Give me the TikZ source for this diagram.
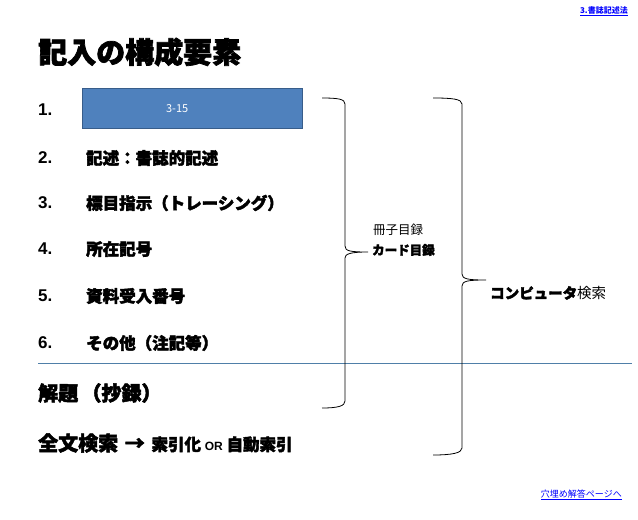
\documentclass[tikz,border=0pt]{standalone}
\usepackage{fontspec}
\setmainfont{Noto Sans CJK JP}
\newfontfamily\jpb{Noto Sans CJK JP}[FakeBold=2.5]
\newfontfamily\arb{Liberation Sans}
\definecolor{boxblue}{HTML}{4F81BD}
\definecolor{boxedge}{HTML}{385D8A}
\definecolor{linkblue}{HTML}{0000FF}
\definecolor{sepline}{HTML}{4F7FA8}
\begin{document}
\begin{tikzpicture}[x=1pt,y=-1pt,
  item/.style={anchor=west,inner sep=0pt,font=\jpb\fontsize{16.5}{18}\selectfont\bfseries},
  num/.style={anchor=west,inner sep=0pt,font=\arb\fontsize{17}{18}\selectfont\bfseries},
  brace/.style={draw=black,line width=0.8pt},
  link/.style={inner sep=0pt,text=linkblue,font=\fontsize{8}{9}\selectfont\bfseries}]
\useasboundingbox (0,0) rectangle (638,520);
\node[link,anchor=east] (top) at (628,11) {\underline{3.書誌記述法}};
\node[anchor=west,inner sep=0pt,font=\jpb\fontsize{29}{30}\selectfont\bfseries] (title) at (38,52) {記入の構成要素};
\node[draw=boxedge,fill=boxblue,minimum width=220pt,minimum height=40pt,anchor=north west,text=white,font=\fontsize{11}{12}\selectfont] (box) at (82,88) {\hspace*{-30pt}3-15};
\node[num] (n1) at (38,110) {1.};
\node[num] (n2) at (38,158) {2.};
\node[num] (n3) at (38,203) {3.};
\node[num] (n4) at (38,249) {4.};
\node[num] (n5) at (38,296) {5.};
\node[num] (n6) at (38,343) {6.};
\node[item] (t2) at (86,158) {記述：書誌的記述};
\node[item] (t3) at (86,203) {標目指示（トレーシング）};
\node[item] (t4) at (86,249) {所在記号};
\node[item] (t5) at (86,296) {資料受入番号};
\node[item] (t6) at (86,343) {その他（注記等）};
\draw[draw=sepline,line width=0.8pt] (38,363) coordinate (la) -- (632,363) coordinate (lb);
\node[item,font=\jpb\fontsize{20}{22}\selectfont\bfseries] (kd) at (38,393) {解題\,（抄録）};
\node[item,font=\jpb\fontsize{20}{22}\selectfont\bfseries] (zb) at (38,443) {全文検索\,\,→\,\,{\fontsize{16.5}{18}\selectfont 索引化 {\arb\fontsize{12}{14}\selectfont OR} 自動索引}};
% braces
\coordinate (b1) at (322,98);
\coordinate (b1n) at (368,252);
\coordinate (b1e) at (322,408);
\draw[brace] (b1) .. controls (338,98) and (345,99) .. (345,104) -- (345,246)
  .. controls (345,251) and (350,252) .. (b1n)
  .. controls (350,252) and (345,254) .. (345,258) -- (345,401)
  .. controls (345,406) and (338,408) .. (b1e);
\coordinate (b2) at (433,98);
\coordinate (b2n) at (486,280);
\coordinate (b2e) at (433,455);
\draw[brace] (b2) .. controls (452,98) and (462,99) .. (462,104) -- (462,274)
  .. controls (462,279) and (468,280) .. (b2n)
  .. controls (468,280) and (462,281) .. (462,286) -- (462,448)
  .. controls (462,453) and (452,455) .. (b2e);
\node[anchor=west,inner sep=0pt,font=\fontsize{12.5}{14}\selectfont] (s1) at (373,230) {冊子目録};
\node[anchor=west,inner sep=0pt,font=\jpb\fontsize{12.5}{14}\selectfont\bfseries] (s2) at (372,250) {カード目録};
\node[anchor=west,inner sep=0pt,font=\fontsize{14.5}{16}\selectfont] (cs) at (490,293) {{\jpb\bfseries コンピュータ}検索};
\node[link,anchor=east,font=\fontsize{9}{10}\selectfont] (bot) at (622,495) {\underline{穴埋め解答ページへ}};
\end{tikzpicture}
\end{document}
